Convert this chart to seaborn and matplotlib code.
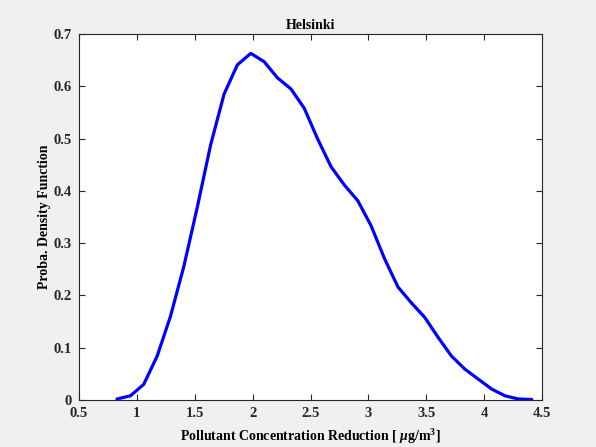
import matplotlib
matplotlib.use("Agg")
import matplotlib.pyplot as plt
import seaborn as sns
import pandas as pd

# Estimated density of the pollutant concentration reduction in Helsinki
reduction = [0.828, 0.944, 1.059, 1.175, 1.290, 1.406, 1.522, 1.637, 1.753, 1.868,
             1.984, 2.100, 2.215, 2.331, 2.446, 2.562, 2.678, 2.793, 2.909, 3.024,
             3.140, 3.256, 3.371, 3.487, 3.602, 3.718, 3.834, 3.949, 4.065, 4.180,
             4.296, 4.412]
density = [0.002, 0.008, 0.030, 0.084, 0.160, 0.256, 0.369, 0.488, 0.585, 0.641,
           0.663, 0.647, 0.616, 0.595, 0.558, 0.499, 0.446, 0.411, 0.381, 0.333,
           0.270, 0.216, 0.186, 0.158, 0.120, 0.084, 0.059, 0.040, 0.021, 0.008,
           0.002, 0.001]
x_ticks = [0.5, 1, 1.5, 2, 2.5, 3, 3.5, 4, 4.5]
x_tick_labels = ["0.5", "1", "1.5", "2", "2.5", "3", "3.5", "4", "4.5"]
y_ticks = [0, 0.1, 0.2, 0.3, 0.4, 0.5, 0.6, 0.7]
y_tick_labels = ["0", "0.1", "0.2", "0.3", "0.4", "0.5", "0.6", "0.7"]

sns.set_style("ticks")
plt.rcParams["font.family"] = ["Liberation Serif", "DejaVu Serif"]
plt.rcParams["font.weight"] = "bold"
plt.rcParams["mathtext.fontset"] = "custom"
plt.rcParams["mathtext.it"] = "Liberation Serif:italic:bold"
plt.rcParams["mathtext.rm"] = "Liberation Serif:bold"

df = pd.DataFrame({"reduction": reduction, "density": density})

fig = plt.figure(figsize=(5.96, 4.47), dpi=100, facecolor="#f0f0f0")
ax = fig.add_axes([0.1326, 0.1051, 0.7768, 0.8188])
ax.set_facecolor("white")

sns.lineplot(data=df, x="reduction", y="density", color="#0000ff",
             linewidth=2.3, ax=ax)

ax.set_xlim(0.5, 4.5)
ax.set_ylim(0, 0.7)
ax.set_xticks(x_ticks)
ax.set_xticklabels(x_tick_labels)
ax.set_yticks(y_ticks)
ax.set_yticklabels(y_tick_labels)
ax.tick_params(direction="in", length=4, width=0.8, colors="#262626",
               labelsize=10.5, top=True, right=True)
ax.tick_params(axis="x", pad=5)
ax.tick_params(axis="y", pad=5)
for lab in ax.get_xticklabels() + ax.get_yticklabels():
    lab.set_fontweight("bold")
    lab.set_color("#262626")
for side in ax.spines.values():
    side.set_visible(True)
    side.set_linewidth(0.8)
    side.set_color("#262626")

ax.set_xlabel(r"Pollutant Concentration Reduction [ $\mu$g/m$^{3}$]",
              fontsize=10, fontweight="bold", color="#000000", labelpad=5)
ax.set_ylabel("Proba. Density Function", fontsize=10, fontweight="bold",
              color="#000000", labelpad=2)
ax.set_title("Helsinki", fontsize=10, fontweight="bold", color="#000000", pad=3.5)

fig.savefig("out.png", dpi=100, facecolor=fig.get_facecolor())
